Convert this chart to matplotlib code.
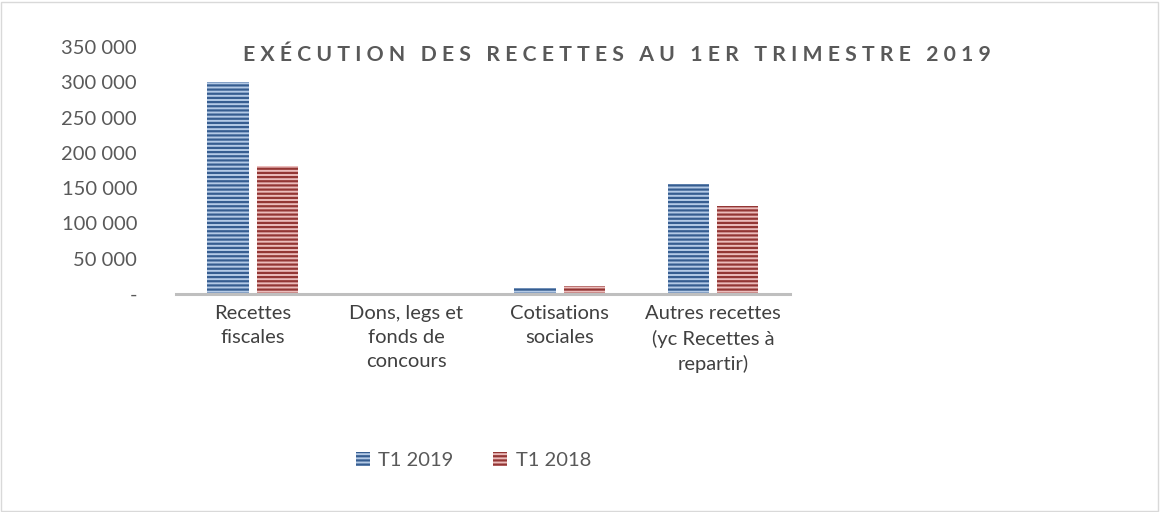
import matplotlib
matplotlib.use("Agg")
import matplotlib.pyplot as plt
import numpy as np
from matplotlib.patches import Rectangle

CATEGORIES = [
    "Recettes\nfiscales",
    "Dons, legs et\nfonds de\nconcours",
    "Cotisations\nsociales",
    "Autres recettes\n(yc Recettes à\nrepartir)",
]
T1_2019 = [300000, 0, 8500, 155500]
T1_2018 = [181000, 0, 11000, 124500]
SERIES = ["T1 2019", "T1 2018"]
YTICKS = [0, 50000, 100000, 150000, 200000, 250000, 300000, 350000]
TITLE = "EXÉCUTION DES RECETTES AU 1ER TRIMESTRE 2019"

BLUE_FACE = "#b4cae6"
BLUE_HATCH = "#365d90"
RED_FACE = "#ecbcbb"
RED_HATCH = "#933634"
TEXT = "#595959"
LABEL = "#404040"

plt.rcParams["font.family"] = ["Lato", "DejaVu Sans"]
plt.rcParams["hatch.linewidth"] = 1.6


def fmt(v):
    if v == 0:
        return "-"
    return f"{v:,.0f}".replace(",", " ")


fig = plt.figure(figsize=(11.6, 5.12), dpi=100)
fig.patches.append(
    Rectangle((0.001, 0.002), 0.997, 0.995, transform=fig.transFigure,
              fill=False, edgecolor="#d9d9d9", linewidth=1)
)
ax = fig.add_axes([0.1517, 0.4258, 0.5293, 0.4822])

x = np.arange(len(CATEGORIES))
w = 0.27
gap = 0.025
ax.bar(x - w / 2 - gap, T1_2019, w, color=BLUE_FACE, edgecolor=BLUE_HATCH,
       hatch="----", linewidth=0, label=SERIES[0])
ax.bar(x + w / 2 + gap, T1_2018, w, color=RED_FACE, edgecolor=RED_HATCH,
       hatch="----", linewidth=0, label=SERIES[1])

ax.set_xlim(-0.5, len(CATEGORIES) - 0.5)
ax.set_ylim(0, 350000)
ax.set_yticks(YTICKS)
ax.set_yticklabels([fmt(v) for v in YTICKS])
ax.set_xticks(x)
ax.set_xticklabels(CATEGORIES, linespacing=1.5)
ax.tick_params(axis="y", length=0, pad=28, labelsize=14.5, labelcolor=TEXT)
ax.tick_params(axis="x", length=0, pad=8, labelsize=14.5, labelcolor=LABEL)
for side in ("top", "right", "left"):
    ax.spines[side].set_visible(False)
ax.spines["bottom"].set_color("#bfbfbf")
ax.spines["bottom"].set_linewidth(2.2)

fig.text(0.532, 0.893, " ".join(TITLE), ha="center", va="center",
         fontsize=15.3, fontweight="bold", color=TEXT)

fig.legend(loc="center", bbox_to_anchor=(0.408, 0.10), ncol=2, frameon=False,
           fontsize=14.5, labelcolor=TEXT, handlelength=0.7, handleheight=0.7,
           handletextpad=0.4, columnspacing=2.0)

fig.savefig("out.png", dpi=100, facecolor="white")
